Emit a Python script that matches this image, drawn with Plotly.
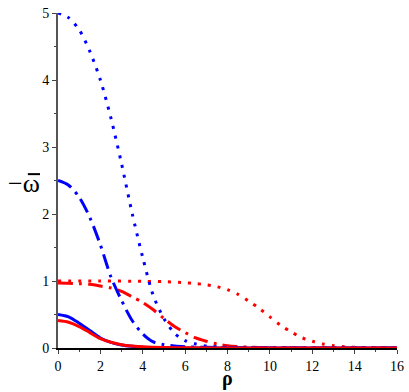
import plotly.graph_objects as go

# rho sample points and curve values
rho_bdot = [0, 0.5, 1.0, 1.5, 2.0, 2.5, 3.0, 3.5, 4.0, 4.5, 5.0, 5.5, 6.0, 6.5, 7.0, 8.0, 10.0, 12.0, 16.0]
w_bdot = [5.0, 4.93, 4.75, 4.43, 4.0, 3.43, 2.75, 2.01, 1.35, 0.78, 0.44, 0.22, 0.11, 0.06, 0.03, 0.01, 0.003, 0.001, 0.0]

rho_bdd = [0, 0.5, 1.0, 1.5, 2.0, 2.5, 3.0, 3.5, 4.0, 4.5, 5.0, 5.5, 6.0, 7.0, 8.0, 10.0, 16.0]
w_bdd = [2.5, 2.43, 2.25, 1.95, 1.54, 1.06, 0.71, 0.41, 0.21, 0.09, 0.05, 0.03, 0.02, 0.01, 0.005, 0.001, 0.0]

rho_rdot = [0, 2, 4, 5, 6, 6.5, 7, 7.5, 8, 8.5, 9, 9.5, 10, 10.5, 11, 11.5, 12, 12.5, 13, 13.5, 14, 15, 16]
w_rdot = [1.0, 1.0, 0.995, 0.99, 0.975, 0.96, 0.945, 0.915, 0.87, 0.80, 0.70, 0.59, 0.465, 0.34, 0.24, 0.155, 0.10, 0.06, 0.035, 0.02, 0.01, 0.003, 0.001]

rho_rdd = [0, 0.5, 1.0, 1.5, 2.0, 2.5, 3.0, 3.5, 4.0, 4.5, 5.0, 5.5, 6.0, 6.5, 7.0, 7.5, 8.0, 9.0, 10.0, 12.0, 16.0]
w_rdd = [0.97, 0.967, 0.96, 0.95, 0.925, 0.895, 0.845, 0.765, 0.68, 0.57, 0.44, 0.32, 0.23, 0.15, 0.10, 0.06, 0.035, 0.012, 0.004, 0.001, 0.0]

rho_bsol = [0, 0.5, 1.0, 1.5, 2.0, 2.5, 3.0, 3.5, 4.0, 5.0, 6.0, 8.0, 16.0]
w_bsol = [0.5, 0.465, 0.37, 0.26, 0.15, 0.085, 0.045, 0.025, 0.013, 0.004, 0.001, 0.0, 0.0]

rho_rsol = [0, 0.5, 1.0, 1.5, 2.0, 2.5, 3.0, 3.5, 4.0, 5.0, 6.0, 8.0, 16.0]
w_rsol = [0.41, 0.385, 0.32, 0.23, 0.14, 0.085, 0.05, 0.03, 0.017, 0.006, 0.002, 0.0005, 0.0]

BLUE = "#0000ff"
RED = "#ff0000"

fig = go.Figure()

def add(x, y, color, dash):
    fig.add_trace(go.Scatter(x=x, y=y, mode="lines",
                             line=dict(color=color, width=3, dash=dash, shape="spline", smoothing=0.8),
                             showlegend=False, hoverinfo="skip"))

add(rho_rdot, w_rdot, RED, "3px,7px")
add(rho_rdd, w_rdd, RED, "15px,6px,3px,6px")
add(rho_bdot, w_bdot, BLUE, "3px,7px")
add(rho_bdd, w_bdd, BLUE, "15px,6px,3px,6px")
add(rho_bsol, w_bsol, BLUE, "solid")
add(rho_rsol, w_rsol, RED, "solid")

tickfont = dict(family="Liberation Serif", size=14, color="black")

fig.update_xaxes(range=[0, 16], tickvals=list(range(0, 17, 2)), ticks="outside", ticklen=4,
                 tickcolor="#444", showline=True, linecolor="black", linewidth=2,
                 showgrid=False, zeroline=False, tickfont=tickfont,
                 ticklabeloverflow="allow", automargin=False,
                 minor=dict(tickvals=list(range(1, 16, 2)), ticks="outside", ticklen=2, tickcolor="#444"))
fig.update_yaxes(range=[0, 5], tickvals=[0, 1, 2, 3, 4, 5], ticks="outside", ticklen=4,
                 tickcolor="#444", showline=True, linecolor="#555", linewidth=2,
                 showgrid=False, zeroline=False, tickfont=tickfont,
                 ticklabeloverflow="allow", automargin=False,
                 minor=dict(tickvals=[0.5, 1.5, 2.5, 3.5, 4.5], ticks="outside", ticklen=2, tickcolor="#444"))

# y label "−ω̄": minus as text, bar over the omega drawn as a short line
fig.add_annotation(text="−ω", xref="paper", yref="paper", x=-0.047, y=0.492,
                   xanchor="right", yanchor="middle", showarrow=False,
                   font=dict(family="Liberation Serif", size=26, color="black"))
fig.add_shape(type="line", xref="paper", yref="paper", x0=-0.089, x1=-0.053, y0=0.519, y1=0.519,
              line=dict(color="black", width=2))
fig.add_annotation(text="<b>ρ</b>", xref="paper", yref="paper", x=0.5, y=-0.092,
                   xanchor="center", yanchor="middle", showarrow=False,
                   font=dict(family="Liberation Serif", size=20, color="black"))

fig.update_layout(width=409, height=392, margin=dict(l=58, r=12, t=13, b=44),
                  plot_bgcolor="white", paper_bgcolor="white")

# drop the page's default body margin so the figure fills the window
fig.write_html("out.html", config={"displayModeBar": False},
               post_script="document.body.style.margin='0';")
